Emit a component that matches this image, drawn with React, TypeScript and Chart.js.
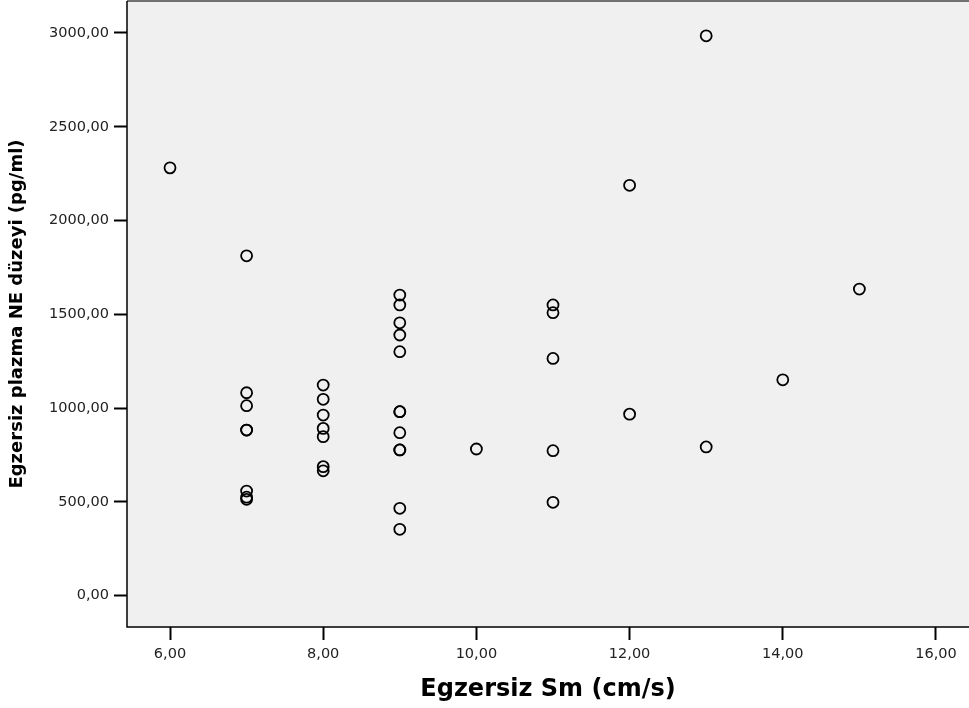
import React, { useEffect, useRef } from "react";
import { Chart, registerables } from "chart.js";

Chart.register(...registerables);

// Egzersiz Sm (cm/s) for each subject
const smValues = [
  6,
  7, 7, 7, 7, 7, 7, 7, 7,
  8, 8, 8, 8, 8, 8, 8,
  9, 9, 9, 9, 9, 9, 9, 9, 9, 9, 9, 9,
  10,
  11, 11, 11, 11, 11,
  12, 12,
  13, 13,
  14,
  15,
];

// Egzersiz plazma NE düzeyi (pg/ml), paired with smValues
const neValues = [
  2281,
  1812, 1082, 1013, 883, 883, 558, 525, 514,
  1123, 1047, 963, 892, 848, 688, 666,
  1603, 1550, 1455, 1390, 1301, 981, 981, 869, 777, 777, 466, 354,
  782,
  1550, 1509, 1265, 773, 498,
  2188, 968,
  2985, 793,
  1151,
  1635,
];

const xTickValues = [6, 8, 10, 12, 14, 16];
const yTickValues = [0, 500, 1000, 1500, 2000, 2500, 3000];

const xTitle = "Egzersiz Sm (cm/s)";
const yTitle = "Egzersiz plazma NE düzeyi (pg/ml)";

const fmt = (v: number) => v.toFixed(2).replace(".", ",");

const FONT = "'DejaVu Sans', Verdana, sans-serif";

// gray plot background plus the frame lines on top, left and bottom
const plotFrame = {
  id: "plotFrame",
  beforeDatasetsDraw(chart: any) {
    const { ctx, chartArea } = chart;
    const { left, top, right, bottom } = chartArea;
    ctx.save();
    ctx.fillStyle = "#f0f0f0";
    ctx.fillRect(left, top, right - left, bottom - top);
    ctx.strokeStyle = "#444";
    ctx.lineWidth = 1.5;
    ctx.beginPath();
    ctx.moveTo(right, top);
    ctx.lineTo(left, top);
    ctx.stroke();
    ctx.strokeStyle = "#000";
    ctx.beginPath();
    ctx.moveTo(left, top);
    ctx.lineTo(left, bottom);
    ctx.lineTo(right, bottom);
    ctx.stroke();
    ctx.restore();
  },
};

const noEdgePadding = (scale: any) => {
  scale.paddingTop = 0;
  scale.paddingBottom = 0;
  scale.paddingLeft = 0;
  scale.paddingRight = 0;
};

export default function App() {
  const canvasRef = useRef<HTMLCanvasElement | null>(null);

  useEffect(() => {
    document.body.style.margin = "0";
    const canvas = canvasRef.current;
    if (!canvas) return;

    const points = smValues.map((x, i) => ({ x, y: neValues[i] }));

    const chart = new Chart(canvas, {
      type: "scatter",
      data: {
        datasets: [
          {
            data: points,
            pointStyle: "circle",
            pointRadius: 5.5,
            pointBorderWidth: 1.8,
            pointBorderColor: "#000",
            pointBackgroundColor: "rgba(0,0,0,0)",
            pointHoverRadius: 5.5,
          },
        ],
      },
      options: {
        animation: false,
        responsive: false,
        layout: { autoPadding: false, padding: { top: 1, left: 0, right: 0, bottom: 0 } },
        plugins: {
          legend: { display: false },
          tooltip: { enabled: false },
        },
        scales: {
          x: {
            type: "linear",
            min: 5.4386,
            max: 16.431,
            afterBuildTicks: (scale: any) => {
              scale.ticks = xTickValues.map((value) => ({ value }));
            },
            afterFit: (scale: any) => {
              scale.height = 81;
              noEdgePadding(scale);
            },
            border: { display: false },
            grid: {
              drawOnChartArea: false,
              drawTicks: true,
              tickLength: 13,
              tickWidth: 2,
              tickColor: "#000",
            },
            ticks: {
              padding: 6,
              color: "#222",
              font: { family: FONT, size: 14.5 },
              maxRotation: 0,
              callback: (v: any) => fmt(Number(v)),
            },
            title: {
              display: true,
              text: xTitle,
              color: "#000",
              font: { family: FONT, size: 24, weight: "bold" },
              padding: { top: 0, bottom: 4 },
            },
          },
          y: {
            type: "linear",
            min: -166.9,
            max: 3170.6,
            afterBuildTicks: (scale: any) => {
              scale.ticks = yTickValues.map((value) => ({ value }));
            },
            afterFit: (scale: any) => {
              scale.width = 127;
              noEdgePadding(scale);
            },
            border: { display: false },
            grid: {
              drawOnChartArea: false,
              drawTicks: true,
              tickLength: 13,
              tickWidth: 2,
              tickColor: "#000",
            },
            ticks: {
              padding: 5,
              color: "#222",
              font: { family: FONT, size: 14.5 },
              callback: (v: any) => fmt(Number(v)),
            },
            title: {
              display: true,
              text: yTitle,
              color: "#000",
              font: { family: FONT, size: 18, weight: "bold" },
              padding: { top: 7, bottom: 0 },
            },
          },
        },
      },
      plugins: [plotFrame],
    });

    return () => chart.destroy();
  }, []);

  return (
    <div style={{ position: "absolute", left: 0, top: 0, width: 969, height: 708, background: "#fff" }}>
      <canvas ref={canvasRef} width={969} height={708} style={{ display: "block" }} />
    </div>
  );
}
